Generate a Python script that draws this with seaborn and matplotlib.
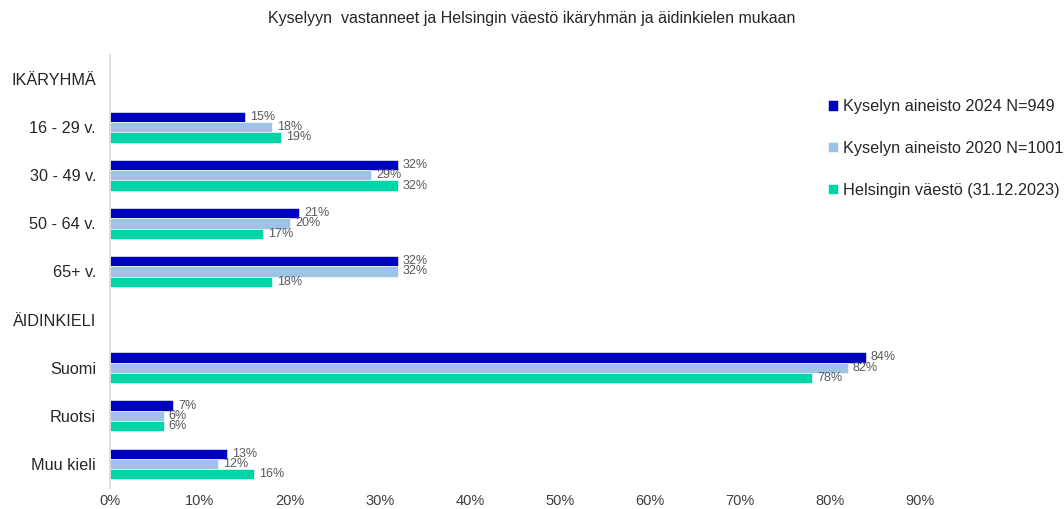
import numpy as np
import pandas as pd
import seaborn as sns
import matplotlib.pyplot as plt

# rows of the chart (header rows have no bars)
categories = ["IKÄRYHMÄ", "16 - 29 v.", "30 - 49 v.", "50 - 64 v.", "65+ v.",
              "ÄIDINKIELI", "Suomi", "Ruotsi", "Muu kieli"]
series = ["Kyselyn aineisto 2024 N=949",
          "Kyselyn aineisto 2020 N=1001",
          "Helsingin väestö (31.12.2023)"]
vals_2024 = [np.nan, 15, 32, 21, 32, np.nan, 84, 7, 13]
vals_2020 = [np.nan, 18, 29, 20, 32, np.nan, 82, 6, 12]
vals_hki = [np.nan, 19, 32, 17, 18, np.nan, 78, 6, 16]
colors = ["#0000BF", "#9DC3E6", "#00D5A8"]
x_ticks = [0, 10, 20, 30, 40, 50, 60, 70, 80, 90]

rows = []
for s, vals in zip(series, [vals_2024, vals_2020, vals_hki]):
    for c, v in zip(categories, vals):
        rows.append({"Ryhmä": c, "Sarja": s, "Osuus": v})
df = pd.DataFrame(rows)

sns.set_theme(style="white")
plt.rcParams['font.family'] = ['Liberation Sans', 'DejaVu Sans']

fig = plt.figure(figsize=(10.64, 5.09), dpi=100)
ax = fig.add_axes([110 / 1064, 1 - 488 / 509, 810 / 1064, 433 / 509])

sns.barplot(data=df.dropna(), y="Ryhmä", x="Osuus", hue="Sarja",
            order=categories, hue_order=series, palette=colors,
            orient="h", width=0.64, saturation=1, ax=ax,
            edgecolor="white", linewidth=0.4, errorbar=None)

for cont in ax.containers:
    ax.bar_label(cont, fmt="%.0f%%", padding=3.5, fontsize=9, color="#595959")

ax.set_xlim(0, 90)
ax.set_ylim(len(categories) - 0.5, -0.5)
ax.set_xticks(x_ticks)
ax.set_xticklabels([f"{t}%" for t in x_ticks], fontsize=10.5, color="#404040")
ax.tick_params(axis="y", labelsize=11.7, colors="#262626", pad=10, length=0)
ax.tick_params(axis="x", length=0, pad=4)
ax.set_xlabel("")
ax.set_ylabel("")
for side in ["top", "right", "bottom"]:
    ax.spines[side].set_visible(False)
ax.spines["left"].set_color("#D9D9D9")
ax.spines["left"].set_linewidth(1.2)

ax.legend(loc="upper left", bbox_to_anchor=(0.772, 0.818),
          bbox_transform=fig.transFigure, frameon=False, fontsize=11.7,
          handlelength=0.6, handleheight=0.6, handletextpad=0.3,
          labelspacing=1.65, borderaxespad=0)

fig.suptitle("Kyselyyn  vastanneet ja Helsingin väestö ikäryhmän ja äidinkielen mukaan",
             x=0.5, y=0.978, fontsize=11.5, color="#262626")

plt.savefig("out.png", dpi=100)
